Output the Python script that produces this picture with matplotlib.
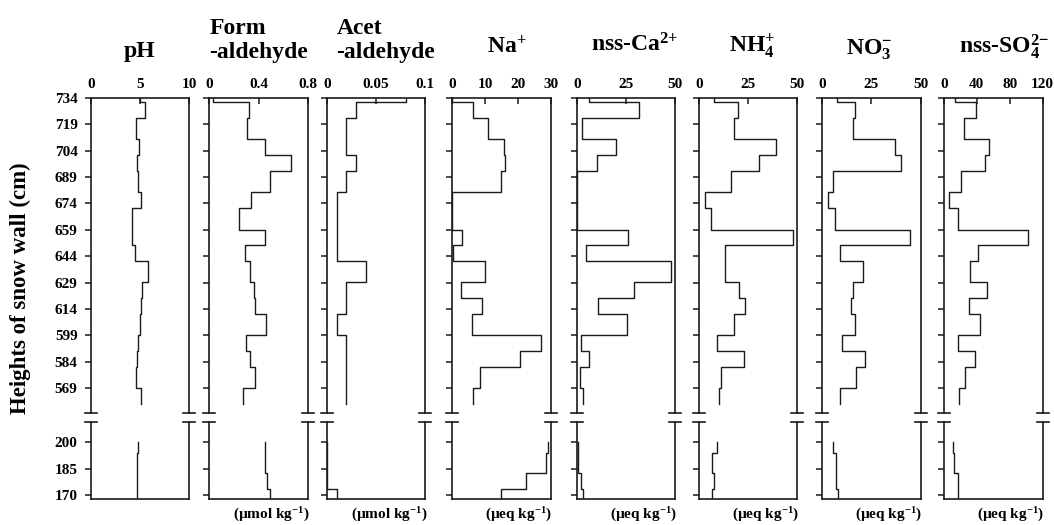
import numpy as np
import matplotlib
matplotlib.use("Agg")
import matplotlib.pyplot as plt

plt.rcParams['font.family'] = ['Liberation Serif', 'DejaVu Serif']
plt.rcParams['font.weight'] = 'bold'
plt.rcParams['mathtext.fontset'] = 'custom'
plt.rcParams['mathtext.rm'] = 'Liberation Serif:bold'
plt.rcParams['mathtext.bf'] = 'Liberation Serif:bold'
plt.rcParams['mathtext.it'] = 'Liberation Serif:bold'
plt.rcParams['mathtext.default'] = 'bf'

# ==== data ====
# sample boundaries (cm), upper and lower part of the snow wall
upper_edges = [734, 731.7, 722.6, 710.5, 701.5, 692.4, 680.3, 671.2, 659.0, 650.4,
               641.3, 629.2, 620.1, 611.0, 599.3, 590.2, 581.2, 569.0, 560.0]
lower_edges = [200.2, 194.0, 182.5, 173.5, 167.5]

ph_up = [5.0, 5.5, 4.6, 4.9, 4.7, 4.8, 5.1, 4.2, 4.2, 4.5, 5.8, 5.2, 5.1, 5.0, 4.85, 4.75, 4.6, 5.1]
ph_lo = [4.8, 4.75, 4.7, 4.7]
form_up = [0.03, 0.32, 0.31, 0.45, 0.66, 0.49, 0.34, 0.24, 0.45, 0.29, 0.33, 0.36, 0.37, 0.46, 0.30, 0.33, 0.37, 0.27]
form_lo = [0.45, 0.45, 0.47, 0.49]
acet_up = [0.08, 0.03, 0.02, 0.02, 0.03, 0.02, 0.01, 0.01, 0.01, 0.01, 0.04, 0.02, 0.02, 0.01, 0.02, 0.02, 0.02, 0.02]
acet_lo = [0.0, 0.0, 0.0, 0.01]
na_up = [0.0, 6.2, 10.8, 15.6, 15.9, 14.9, 0.0, 0.0, 3.0, 0.3, 10.0, 2.6, 8.9, 6.1, 27.1, 20.7, 8.4, 6.2]
na_lo = [29.1, 28.5, 22.3, 14.9]
ca_up = [6.2, 31.6, 2.5, 19.9, 10.1, 0.2, 0.2, 0.2, 25.7, 4.6, 47.8, 29.1, 10.6, 25.3, 2.0, 5.9, 1.4, 3.0]
ca_lo = [0.8, 0.8, 1.9, 3.0]
nh4_up = [7.8, 19.7, 17.8, 39.2, 30.5, 16.1, 3.4, 6.3, 47.6, 13.1, 13.1, 20.5, 23.2, 18.1, 9.0, 22.9, 11.5, 10.2]
nh4_lo = [9.2, 6.6, 7.6, 6.8]
no3_up = [7.6, 16.6, 15.8, 36.9, 39.8, 5.4, 2.9, 6.7, 44.5, 9.2, 20.5, 15.6, 14.6, 16.6, 9.9, 21.6, 17.1, 9.1]
no3_lo = [5.4, 6.9, 6.9, 8.2]
so4_up = [13.7, 39.1, 23.8, 54.4, 49.5, 20.9, 6.4, 16.5, 101.9, 41.5, 32.2, 52.8, 30.6, 44.3, 17.3, 37.5, 25.0, 17.7]
so4_lo = [10.5, 12.1, 16.5, 16.5]

upper_vals = [ph_up, form_up, acet_up, na_up, ca_up, nh4_up, no3_up, so4_up]
lower_vals = [ph_lo, form_lo, acet_lo, na_lo, ca_lo, nh4_lo, no3_lo, so4_lo]

titles = [["pH"], ["Form", "-aldehyde"], ["Acet", "-aldehyde"], [r"Na$^{+}$"],
          [r"nss-Ca$^{2{+}}$"], [r"NH$_{4}^{+}$"], [r"NO$_{3}^{-}$"], [r"nss-SO$_{4}^{2{-}}$"]]
xmax = [10, 0.8, 0.1, 30, 50, 50, 50, 120]
xticks = [[0, 5, 10], [0, 0.4, 0.8], [0, 0.05, 0.1], [0, 10, 20, 30],
          [0, 25, 50], [0, 25, 50], [0, 25, 50], [0, 40, 80, 120]]
xticklabels = [["0", "5", "10"], ["0", "0.4", "0.8"], ["0", "0.05", "0.1"], ["0", "10", "20", "30"],
               ["0", "25", "50"], ["0", "25", "50"], ["0", "25", "50"], ["0", "40", "80", "120"]]
units = [None, "(µmol kg$^{-1}$)", "(µmol kg$^{-1}$)", "(µeq kg$^{-1}$)",
         "(µeq kg$^{-1}$)", "(µeq kg$^{-1}$)", "(µeq kg$^{-1}$)", "(µeq kg$^{-1}$)"]
upper_yticks = [734, 719, 704, 689, 674, 659, 644, 629, 614, 599, 584, 569]
lower_yticks = [200, 185, 170]

# ==== layout (pixels) ====
W_PX, H_PX = 1054, 525
lefts = [90.7, 209.3, 326.7, 452.3, 576.9, 698.8, 822.2, 944.0]
width = 98.5
up_top, up_bot = 97.7, 413.3
lo_top, lo_bot = 421.7, 499.3
title_x = [0.5, 0.5, 0.6, 0.55, 0.59, 0.54, 0.48, 0.61]
# baseline of the last title line
title_y = [57, 58, 58, 53, 52, 53, 55, 53]

color = '#1a1a1a'


def profile(edges, vals):
    x = np.repeat(vals, 2)
    y = np.column_stack([edges[:-1], edges[1:]]).ravel()
    return x, y


def style(ax, show_ylabels):
    for s in ax.spines.values():
        s.set_linewidth(1.2)
        s.set_color(color)
    ax.tick_params(axis='y', direction='out', length=4.5, width=1.1, pad=5,
                   labelsize=11, labelleft=show_ylabels, color=color)


fig = plt.figure(figsize=(W_PX / 100, H_PX / 100), dpi=100)

for i in range(8):
    L = lefts[i] / W_PX
    w = width / W_PX
    ax_up = fig.add_axes([L, 1 - up_bot / H_PX, w, (up_bot - up_top) / H_PX])
    ax_lo = fig.add_axes([L, 1 - lo_bot / H_PX, w, (lo_bot - lo_top) / H_PX])

    x, y = profile(upper_edges, upper_vals[i])
    ax_up.plot(x, y, color=color, lw=1.0)
    x, y = profile(lower_edges, lower_vals[i])
    ax_lo.plot(x, y, color=color, lw=1.0)

    for ax in (ax_up, ax_lo):
        ax.set_xlim(0, xmax[i])
        style(ax, i == 0)

    ax_up.set_ylim(upper_edges[-1] - 5.2, upper_edges[0])
    ax_lo.set_ylim(lower_edges[-1], 211.7)
    ax_up.set_yticks(upper_yticks)
    ax_lo.set_yticks(lower_yticks)

    ax_up.spines['bottom'].set_visible(False)
    ax_lo.spines['top'].set_visible(False)

    ax_up.xaxis.tick_top()
    ax_up.set_xticks(xticks[i])
    ax_up.set_xticklabels(xticklabels[i])
    ax_up.tick_params(axis='x', direction='in', length=4.5, width=1.1, pad=5,
                      labelsize=11, color=color)
    ax_lo.set_xticks([])

    # break marks
    d = 6 / width
    for xx in (0, 1):
        ax_up.plot([xx - d, xx + d], [0, 0], transform=ax_up.transAxes,
                   color=color, lw=1.2, clip_on=False)
        ax_lo.plot([xx - d, xx + d], [1, 1], transform=ax_lo.transAxes,
                   color=color, lw=1.2, clip_on=False)

    # title
    tx = (lefts[i] + title_x[i] * width) / W_PX
    fig.text(tx, 1 - title_y[i] / H_PX, "\n".join(titles[i]), ha='center', va='baseline',
             multialignment='left', fontsize=17, fontweight='bold', linespacing=1.2)

    if units[i] is not None:
        fig.text((lefts[i] + width + 2) / W_PX, 1 - 515 / H_PX, units[i],
                 ha='right', va='center', fontsize=11, fontweight='bold')

fig.text(20 / W_PX, 1 - 288 / H_PX, "Heights of snow wall (cm)", rotation=90,
         ha='center', va='center', fontsize=16.5, fontweight='bold')

fig.savefig("out.png", dpi=100)
